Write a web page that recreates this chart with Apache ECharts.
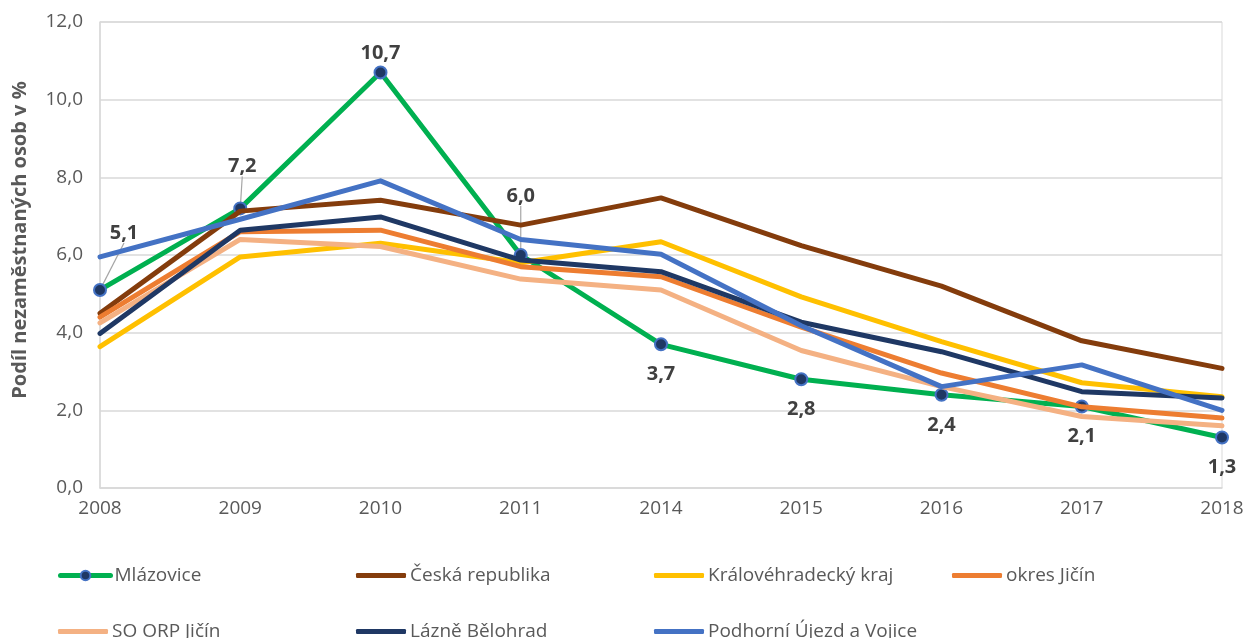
<!DOCTYPE html>
<html>
<head>
<meta charset="utf-8">
<script src="https://cdn.jsdelivr.net/npm/echarts@6/dist/echarts.min.js"></script>
<style>
html,body{margin:0;padding:0;background:#fff;}
#chart{width:1247px;height:638px;}
</style>
</head>
<body>
<div id="chart"></div>
<script>
// roky
var years = ['2008','2009','2010','2011','2014','2015','2016','2017','2018'];
var yTicks = [0, 2, 4, 6, 8, 10, 12];

// podil nezamestnanych v %
var mlazovice      = [5.1, 7.2, 10.7, 6.0, 3.7, 2.8, 2.4, 2.1, 1.3];
var ceskaRepublika = [4.5, 7.13, 7.41, 6.77, 7.47, 6.24, 5.2, 3.79, 3.08];
var hkKraj         = [3.64, 5.95, 6.3, 5.8, 6.34, 4.92, 3.77, 2.71, 2.35];
var okresJicin     = [4.4, 6.6, 6.64, 5.7, 5.44, 4.14, 2.96, 2.09, 1.8];
var orpJicin       = [4.25, 6.4, 6.22, 5.38, 5.1, 3.54, 2.61, 1.84, 1.6];
var lazneBelohrad  = [3.98, 6.64, 6.98, 5.87, 5.57, 4.27, 3.51, 2.48, 2.32];
var podhorni       = [5.95, 6.92, 7.91, 6.4, 6.02, 4.18, 2.61, 3.17, 2.0];

var names = ['Mlázovice','Česká republika','Královéhradecký kraj','okres Jičín','SO ORP Jičín','Lázně Bělohrad','Podhorní Újezd a Vojice'];
var colors = ['#00B050','#843C0C','#FFC000','#ED7D31','#F4B183','#1F3864','#4472C4'];
var values = [mlazovice, ceskaRepublika, hkKraj, okresJicin, orpJicin, lazneBelohrad, podhorni];

function fmt(v){ return v.toFixed(1).replace('.', ','); }

window.onload = function(){
    setChart();
}

function setChart(){
    var myChart = echarts.init(document.getElementById('chart'));
    var font = '"Open Sans", "Noto Sans", sans-serif';

    // popisky Mlazovice: nahore / dole
    var labelPos = ['top','top','top','top','bottom','bottom','bottom','bottom','bottom'];
    var moved = {0: [24, -38], 1: [2, -23], 3: [0, -40]};

    var mlzData = mlazovice.map(function(v, i){
        var item = {
            value: v,
            label: {position: labelPos[i], distance: labelPos[i] == 'top' ? 2 : 13}
        };
        if (moved[i]) item.labelLine = {show: true};
        return item;
    });

    var series = [];
    for (let i = 0; i < names.length; i++) {
        var s = {
            name: names[i],
            type: 'line',
            data: i == 0 ? mlzData : values[i],
            symbol: 'none',
            lineStyle: {width: 5, color: colors[i], cap: 'round', join: 'round'},
            itemStyle: {color: colors[i]},
            emphasis: {disabled: true},
            z: 2 + i
        };
        if (i == 0) {
            s.symbol = 'circle';
            s.symbolSize = 12;
            s.showAllSymbol = true;
            s.itemStyle = {color: '#1F3864', borderColor: '#4472C4', borderWidth: 2};
            s.label = {
                show: true,
                formatter: function(p){ return fmt(p.value); },
                fontFamily: font,
                fontSize: 20,
                fontWeight: 'bold',
                color: '#404040'
            };
            s.labelLine = {show: false, lineStyle: {color: '#a6a6a6', width: 1.2}};
            s.labelLayout = function(p){
                if (moved[p.dataIndex]) return {dx: moved[p.dataIndex][0], dy: moved[p.dataIndex][1]};
                return {};
            };
        }
        series.push(s);
    }

    // legenda - dva radky po ctyrech sloupcich
    var legends = [];
    for (let i = 0; i < names.length; i++) {
        var lg = {
            data: [names[i]],
            left: 53 + (i % 4) * 298,
            top: i < 4 ? 561 : 617,
            itemWidth: 50,
            itemHeight: 12,
            itemGap: 4,
            selectedMode: false,
            lineStyle: {width: 5, cap: 'round'},
            textStyle: {fontFamily: font, fontSize: 19, color: '#595959', padding: [0, 0, 0, -1]}
        };
        if (i > 0) {
            lg.icon = 'roundRect';
            lg.itemHeight = 5;
        }
        legends.push(lg);
    }

    var option = {
        animation: false,
        color: colors,
        grid: {left: 100, right: 25, top: 22, bottom: 150, show: true, borderColor: '#d9d9d9', borderWidth: 1},
        legend: legends,
        xAxis: {
            type: 'category',
            data: years,
            boundaryGap: false,
            axisLine: {lineStyle: {color: '#d9d9d9', width: 1.5}},
            axisTick: {show: false},
            axisLabel: {fontFamily: font, fontSize: 19, color: '#595959', margin: 11}
        },
        yAxis: {
            type: 'value',
            min: yTicks[0],
            max: yTicks[yTicks.length - 1],
            interval: 2,
            name: 'Podíl nezaměstnaných osob v %',
            nameLocation: 'middle',
            nameGap: 70,
            nameTextStyle: {fontFamily: font, fontSize: 20, fontWeight: 'bold', color: '#595959', padding: [0, 0, 0, 30]},
            axisLine: {show: true, lineStyle: {color: '#d9d9d9', width: 1.5}},
            axisLabel: {fontFamily: font, fontSize: 19, color: '#595959', margin: 17, formatter: fmt},
            splitLine: {lineStyle: {color: '#d9d9d9', width: 1.5}}
        },
        series: series
    };
    myChart.setOption(option);
}
</script>
</body>
</html>
